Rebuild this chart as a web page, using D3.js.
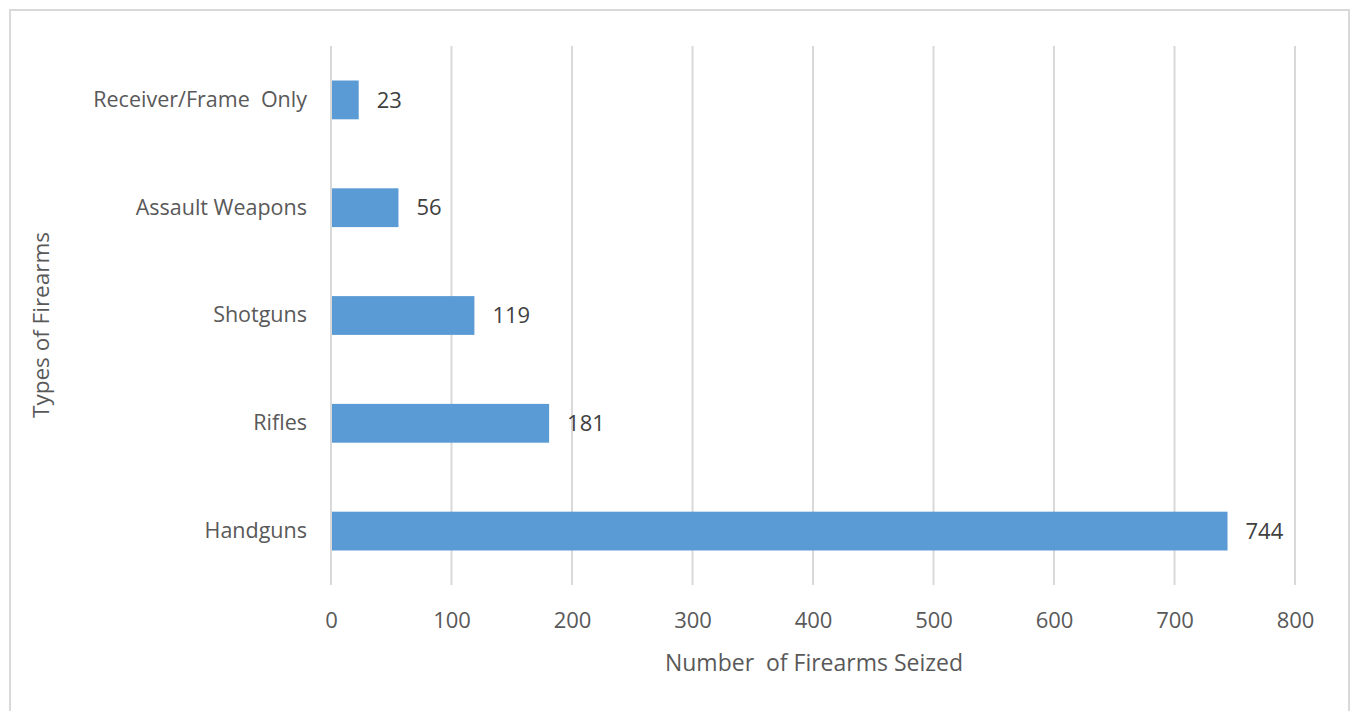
<!DOCTYPE html>
<html><head><meta charset="utf-8">
<script src="https://cdn.jsdelivr.net/npm/d3@7"></script>
<style>body{margin:0;background:#fff}svg{display:block}</style>
</head><body>
<script>
const categories = ["Receiver/Frame  Only","Assault Weapons","Shotguns","Rifles","Handguns"];
const values = [23,56,119,181,744];
const xTicks = [0,100,200,300,400,500,600,700,800];

const W=1351,H=711;
const svg=d3.select("body").append("svg").attr("width",W).attr("height",H);
const font="'Open Sans', 'Liberation Sans', sans-serif";
const txt="#595959";
svg.append("rect").attr("x",10).attr("y",10).attr("width",1339).attr("height",720)
  .attr("fill","#fff").attr("stroke","#d9d9d9").attr("stroke-width",2);

const L=331,R=1295,T=46,B=585;
const x=d3.scaleLinear().domain([0,800]).range([L,R]);
const y=d3.scaleBand().domain(categories).range([T,B]).paddingInner(0.64).paddingOuter(0.32);

// grid
svg.append("g").selectAll("line").data(xTicks).join("line")
  .attr("x1",d=>x(d)).attr("x2",d=>x(d)).attr("y1",T).attr("y2",B)
  .attr("stroke","#d9d9d9").attr("stroke-width",2);

// bars
svg.append("g").selectAll("rect").data(values).join("rect")
  .attr("x",x(0)+1).attr("y",(d,i)=>y(categories[i]))
  .attr("width",d=>x(d)-x(0)-1).attr("height",y.bandwidth()).attr("fill","#5B9BD5");

// value labels
svg.append("g").selectAll("text").data(values).join("text")
  .attr("x",d=>x(d)+18).attr("y",(d,i)=>y(categories[i])+y.bandwidth()/2)
  .attr("dy","0.35em").attr("font-family",font).attr("font-size",22).attr("fill","#404040")
  .text(d=>d);

// x axis
const xa=d3.axisBottom(x).tickValues(xTicks).tickSize(0).tickPadding(0);
const gx=svg.append("g").attr("transform",`translate(0,${B+35})`).call(xa);
gx.select(".domain").remove();
gx.selectAll("text").attr("font-family",font).attr("font-size",22).attr("fill",txt).attr("dy","0.35em");

// y axis
const ya=d3.axisLeft(y).tickSize(0).tickPadding(24);
const gy=svg.append("g").attr("transform",`translate(${L},0)`).call(ya);
gy.select(".domain").remove();
gy.selectAll("text").attr("font-family",font).attr("font-size",21.5).attr("fill",txt).style("white-space","pre");

// titles
svg.append("text").attr("x",814).attr("y",663).attr("dy","0.35em").attr("text-anchor","middle")
  .attr("font-family",font).attr("font-size",23).attr("fill",txt).style("white-space","pre")
  .text("Number  of Firearms Seized");
svg.append("text").attr("transform","translate(41,325) rotate(-90)").attr("dy","0.35em").attr("text-anchor","middle")
  .attr("font-family",font).attr("font-size",22.5).attr("fill",txt)
  .text("Types of Firearms");
</script>
</body></html>
